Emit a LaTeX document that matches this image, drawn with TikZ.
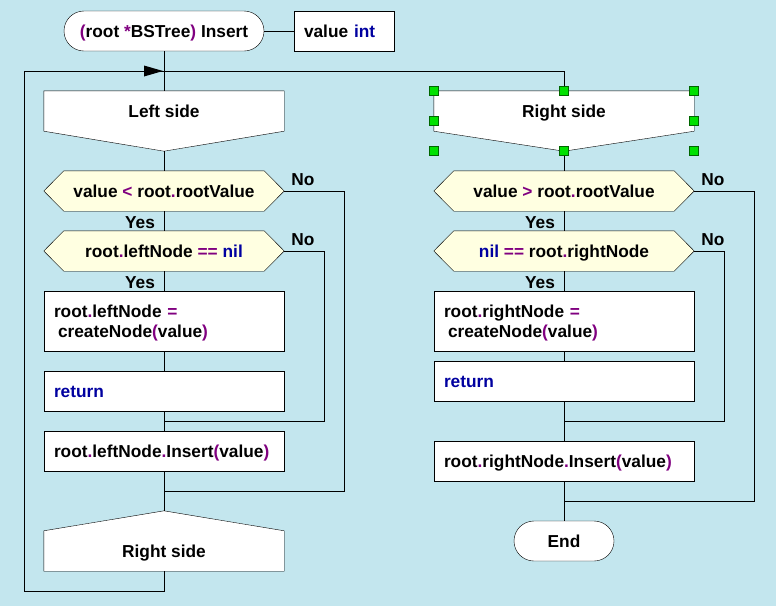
\documentclass[tikz,border=0pt]{standalone}
\usepackage{fontspec}
\setmainfont{Liberation Sans}
\usetikzlibrary{calc}
\pgfdeclarelayer{back}
\pgfdeclarelayer{shp}
\pgfsetlayers{back,shp,main}
\definecolor{bgc}{RGB}{195,230,238}
\definecolor{yelc}{RGB}{255,255,225}
\definecolor{opc}{RGB}{128,0,128}
\definecolor{kwc}{RGB}{0,0,160}
\definecolor{hndc}{RGB}{0,225,0}
\newcommand{\opx}[1]{\textcolor{opc}{#1}}
\newcommand{\kwx}[1]{\textcolor{kwc}{#1}}
\begin{document}
\begin{tikzpicture}[x=1pt,y=-1pt,line width=1pt,
  every node/.style={font=\bfseries\fontsize{17.3}{20}\selectfont},
  tx/.style={text height=13pt,text depth=0.6pt},
  tx2/.style={text height=16.4pt},
  term/.style={tx,draw,fill=white,rounded corners=20pt,minimum height=40pt,inner sep=0pt},
  box/.style={tx,draw,fill=white,minimum height=40pt,inner xsep=10pt,inner ysep=0pt,text width=220pt,align=left},
  rbox/.style={box,text width=240pt},
  box2/.style={draw,fill=white,minimum height=60pt,inner xsep=10pt,inner ysep=0pt,text width=220pt,align=left,tx2},
  rbox2/.style={box2,text width=240pt},
  hexbody/.style={tx,minimum width=240pt,minimum height=40pt,inner sep=0pt},
  rhexbody/.style={hexbody,minimum width=260pt},
  pent/.style={tx,minimum width=240pt,minimum height=40pt,inner sep=0pt},
  rpent/.style={pent,minimum width=260pt},
  lbl/.style={tx,inner sep=0pt},
  hexfill/.style={draw,fill=yelc},
  handle/.style={draw=black!60!green,fill=hndc,line width=0.6pt,minimum size=8.5pt,inner sep=0pt}]
\begin{pgfonlayer}{back}
\fill[bgc] (0,0) rectangle (776,606);
\end{pgfonlayer}
\useasboundingbox (0,0) rectangle (776,606);

% left column
\node[term,minimum width=200pt] (start) at (164,31) {\opx{(}root \opx{*}BSTree\opx{)} Insert};
\node[box,text width=80pt] (par) at (344,31) {value \kwx{int}};
\node[pent] (ls) at (164,111) {Left side};
\node[hexbody] (d1) at (164,191) {value \opx{<} root\opx{.}rootValue};
\node[hexbody] (d2) at (164,251) {root\opx{.}leftNode \opx{==} \kwx{nil}};
\node[box2] (b1) at (164,321) {root\opx{.}leftNode \opx{=}\\\hspace*{4pt}createNode\opx{(}value\opx{)}};
\node[box] (b2) at (164,391) {\kwx{return}};
\node[box] (b3) at (164,451) {root\opx{.}leftNode\opx{.}Insert\opx{(}value\opx{)}};
\node[pent] (rsb) at (164,551) {Right side};

% right column
\node[rpent] (rs) at (564,111) {Right side};
\node[rhexbody] (d3) at (564,191) {value \opx{>} root\opx{.}rootValue};
\node[rhexbody] (d4) at (564,251) {\kwx{nil} \opx{==} root\opx{.}rightNode};
\node[rbox2] (b4) at (564,321) {root\opx{.}rightNode \opx{=}\\\hspace*{4pt}createNode\opx{(}value\opx{)}};
\node[rbox] (b5) at (564,381) {\kwx{return}};
\node[rbox] (b6) at (564,461) {root\opx{.}rightNode\opx{.}Insert\opx{(}value\opx{)}};
\node[term,minimum width=100pt] (fin) at (564,541) {End};

\coordinate (lstip) at ($(ls.south)+(0,20)$);
\coordinate (rstip) at ($(rs.south)+(0,20)$);
\coordinate (rsbtip) at ($(rsb.north)+(0,-20)$);

\begin{pgfonlayer}{shp}
\foreach \n in {d1,d2,d3,d4}{
  \draw[hexfill] (\n.west) -- ($(\n.north west)+(20,0)$) -- ($(\n.north east)+(-20,0)$) -- (\n.east) -- ($(\n.south east)+(-20,0)$) -- ($(\n.south west)+(20,0)$) -- cycle;
}
\draw[fill=white] (ls.north west) -- (ls.north east) -- (ls.south east) -- (lstip) -- (ls.south west) -- cycle;
\draw[fill=white] (rs.north west) -- (rs.north east) -- (rs.south east) -- (rstip) -- (rs.south west) -- cycle;
\draw[fill=white] (rsb.south west) -- (rsb.south east) -- (rsb.north east) -- (rsbtip) -- (rsb.north west) -- cycle;
\end{pgfonlayer}

% connectors left
\draw (start.east) -- (par.west);
\draw (start.south) -- (ls.north);
\draw (lstip) -- (d1.north);
\draw (d1.south) -- (d2.north);
\draw (d2.south) -- (b1.north);
\draw (b1.south) -- (b2.north);
\draw (b2.south) -- (b3.north);
\draw (b3.south) -- (rsbtip);
\coordinate (j1) at (164,491);
\coordinate (j2) at (164,421);
\draw (d1.east) -- ++(60,0) |- (j1);
\draw (d2.east) -- ++(40,0) |- (j2);
\coordinate (lpb) at (24,591);
\coordinate (lpt) at (24,71);
\draw (rsb.south) |- (lpb) -- (lpt) -| (rs.north);
\coordinate (arr) at (163,71);
\fill (arr) -- ++(-19,-5.5) -- ++(0,11) -- cycle;

% connectors right
\draw (rstip) -- (d3.north);
\draw (d3.south) -- (d4.north);
\draw (d4.south) -- (b4.north);
\draw (b4.south) -- (b5.north);
\draw (b5.south) -- (b6.north);
\draw (b6.south) -- (fin.north);
\coordinate (j3) at (564,501);
\coordinate (j4) at (564,421);
\draw (d3.east) -- ++(60,0) |- (j3);
\draw (d4.east) -- ++(30,0) |- (j4);

% labels
\node[lbl] (y1) at (140,222) {Yes};
\node[lbl] (y2) at (140,282) {Yes};
\node[lbl] (n1) at (303,179) {No};
\node[lbl] (n2) at (303,239) {No};
\node[lbl] (y3) at (540,222) {Yes};
\node[lbl] (y4) at (540,282) {Yes};
\node[lbl] (n3) at (713,179) {No};
\node[lbl] (n4) at (713,239) {No};

% selection handles
\foreach \p [count=\i] in {(434,91),(564,91),(694,91),(434,121),(694,121),(434,151),(564,151),(694,151)}
  \node[handle] (h\i) at \p {};
\end{tikzpicture}
\end{document}
